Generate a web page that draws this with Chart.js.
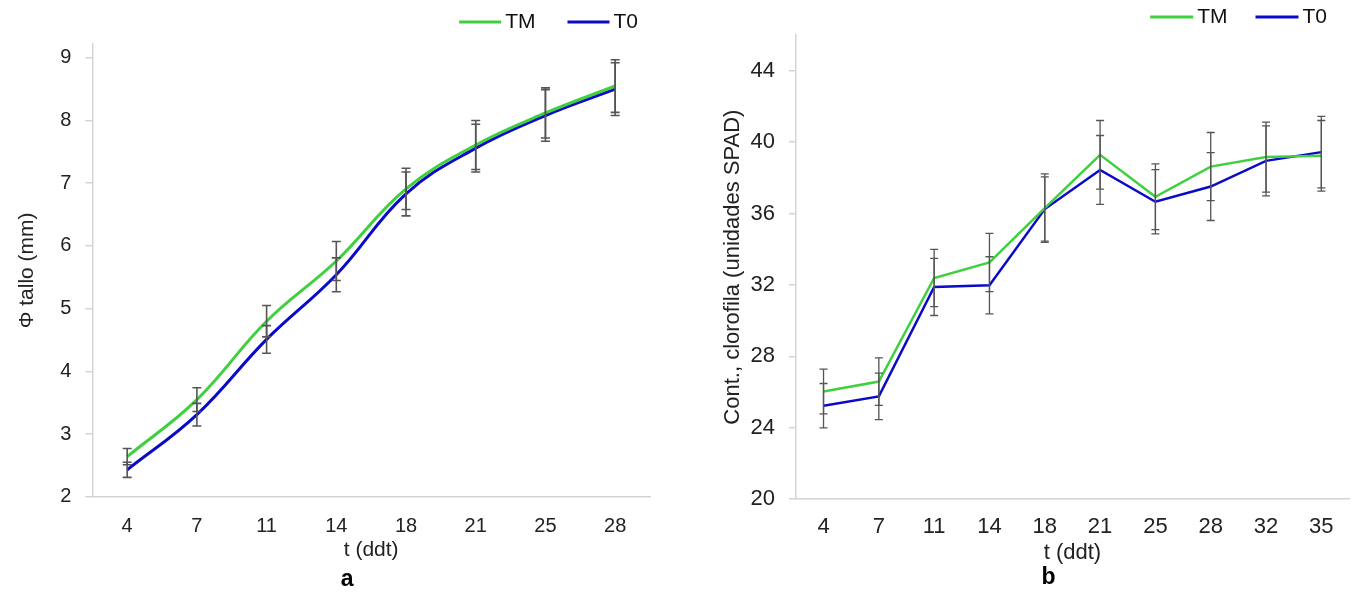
<!DOCTYPE html>
<html>
<head>
<meta charset="utf-8">
<script src="https://cdn.jsdelivr.net/npm/chart.js@4.4.0/dist/chart.umd.min.js"></script>
<style>
  body { margin: 0; background: #fff; }
  .panel { position: absolute; top: 0; height: 594px; }
  #boxA { left: 0; width: 676px; }
  #boxB { left: 676px; width: 677px; }
</style>
</head>
<body>
<div class="panel" id="boxA"><canvas id="chartA"></canvas></div>
<div class="panel" id="boxB"><canvas id="chartB"></canvas></div>
<script>
// --- Panel a: stem diameter ---
const daysA = ['4', '7', '11', '14', '18', '21', '25', '28'];
const tmA = [2.64, 3.55, 4.80, 5.76, 6.91, 7.61, 8.12, 8.55];
const t0A = [2.43, 3.31, 4.51, 5.54, 6.83, 7.56, 8.08, 8.50];
const tmErrA = [0.13, 0.19, 0.25, 0.31, 0.33, 0.39, 0.40, 0.42];
const t0ErrA = [0.12, 0.18, 0.22, 0.27, 0.35, 0.38, 0.41, 0.42];
const ticksA = [2, 3, 4, 5, 6, 7, 8, 9];

// --- Panel b: chlorophyll (SPAD) ---
const daysB = ['4', '7', '11', '14', '18', '21', '25', '28', '32', '35'];
const tmB = [26.03, 26.59, 32.39, 33.26, 36.30, 39.29, 36.94, 38.63, 39.16, 39.23];
const t0B = [25.24, 25.76, 31.89, 31.98, 36.25, 38.44, 36.66, 37.51, 38.95, 39.44];
const tmErrB = [1.25, 1.33, 1.60, 1.63, 1.92, 1.92, 1.84, 1.91, 1.96, 1.98];
const t0ErrB = [1.24, 1.30, 1.60, 1.60, 1.80, 1.93, 1.80, 1.90, 1.96, 2.00];
const ticksB = [20, 24, 28, 32, 36, 40, 44];

const GREEN = '#3fd03f';
const BLUE = '#0a0ac8';
const AXIS = '#d4d4d4';
const FONT = '"Liberation Sans", Arial, sans-serif';

// error bars drawn from each dataset's `errors` array
const errorBars = {
    id: 'errorBars',
    afterDatasetsDraw(chart, args, opts) {
        const { ctx } = chart;
        const y = chart.scales.y;
        ctx.save();
        ctx.strokeStyle = opts.color;
        ctx.lineWidth = opts.width;
        chart.data.datasets.forEach((ds, i) => {
            chart.getDatasetMeta(i).data.forEach((pt, j) => {
                const v = ds.data[j], e = ds.errors[j];
                const top = y.getPixelForValue(v + e);
                const bot = y.getPixelForValue(v - e);
                const x = pt.x, c = opts.cap;
                ctx.beginPath();
                ctx.moveTo(x, top); ctx.lineTo(x, bot);
                ctx.moveTo(x - c, top); ctx.lineTo(x + c, top);
                ctx.moveTo(x - c, bot); ctx.lineTo(x + c, bot);
                ctx.stroke();
            });
        });
        ctx.restore();
    }
};

// legend with line samples, right-aligned to the plot area
const lineLegend = {
    id: 'lineLegend',
    afterDraw(chart, args, opts) {
        const { ctx, chartArea } = chart;
        ctx.save();
        ctx.font = `${opts.size}px ${FONT}`;
        ctx.textBaseline = 'middle';
        let x = chartArea.right + opts.dx;
        chart.data.datasets.slice().reverse().forEach(ds => {
            x -= ctx.measureText(ds.label).width;
            ctx.fillStyle = '#111';
            ctx.fillText(ds.label, x, opts.y);
            x -= opts.textGap;
            ctx.strokeStyle = ds.borderColor;
            ctx.lineWidth = 3;
            ctx.beginPath();
            ctx.moveTo(x - opts.lineLen, opts.y);
            ctx.lineTo(x, opts.y);
            ctx.stroke();
            x -= opts.lineLen + opts.itemGap;
        });
        ctx.restore();
    }
};

// bold panel letter under the x axis title
const panelLabel = {
    id: 'panelLabel',
    afterDraw(chart, args, opts) {
        const { ctx, chartArea } = chart;
        ctx.save();
        ctx.font = `bold 23px ${FONT}`;
        ctx.fillStyle = '#000';
        ctx.textAlign = 'center';
        ctx.textBaseline = 'middle';
        ctx.fillText(opts.text, (chartArea.left + chartArea.right) / 2 + opts.dx, opts.y);
        ctx.restore();
    }
};

function makeChart(id, cfg) {
    return new Chart(document.getElementById(id), {
        type: 'line',
        data: {
            labels: cfg.labels,
            datasets: [
                { label: 'TM', data: cfg.tm, errors: cfg.tmErr, borderColor: GREEN, backgroundColor: GREEN,
                  borderWidth: cfg.lineWidth, pointRadius: 0, tension: cfg.tension },
                { label: 'T0', data: cfg.t0, errors: cfg.t0Err, borderColor: BLUE, backgroundColor: BLUE,
                  borderWidth: cfg.lineWidth, pointRadius: 0, tension: cfg.tension }
            ]
        },
        options: {
            responsive: true,
            maintainAspectRatio: false,
            animation: false,
            layout: { padding: cfg.padding },
            scales: {
                x: {
                    offset: true,
                    grid: { display: false, drawTicks: false, tickLength: 0 },
                    border: { display: true, color: AXIS, width: 1.5 },
                    ticks: { color: '#222', font: { family: FONT, size: cfg.xTickSize }, padding: cfg.xTickPad },
                    title: { display: true, text: 't (ddt)', color: '#222',
                             font: { family: FONT, size: cfg.xTitleSize }, padding: { top: cfg.xTitleTop, bottom: 0 } }
                },
                y: {
                    min: cfg.min, max: cfg.max,
                    // only the labelled values, not the axis maximum
                    afterBuildTicks: scale => {
                        scale.ticks = cfg.tickValues.map(v => ({ value: v }));
                    },
                    grid: { drawOnChartArea: false, drawTicks: true, tickLength: 7, color: AXIS, lineWidth: 1.5 },
                    border: { display: true, color: AXIS, width: 1.5 },
                    ticks: { color: '#222', font: { family: FONT, size: cfg.yTickSize }, padding: 14 },
                    title: { display: true, text: cfg.yTitle, color: '#222',
                             font: { family: FONT, size: cfg.yTitleSize }, padding: { top: 0, bottom: cfg.yTitleGap } }
                }
            },
            plugins: {
                legend: { display: false },
                tooltip: { enabled: false },
                errorBars: { color: '#555', width: cfg.errWidth, cap: cfg.cap },
                lineLegend: cfg.legend,
                panelLabel: { text: cfg.letter, dx: -24, y: cfg.letterY }
            }
        },
        plugins: [errorBars, lineLegend, panelLabel]
    });
}

makeChart('chartA', {
    labels: daysA, tm: tmA, t0: t0A, tmErr: tmErrA, t0Err: t0ErrA,
    min: 2, max: 9.22, tickValues: ticksA,
    yTitle: 'Φ tallo (mm)', yTitleSize: 21, yTitleGap: 6, yTickSize: 20,
    xTickSize: 20, xTickPad: 18, xTitleSize: 21, xTitleTop: -19,
    tension: 0.4, lineWidth: 3, errWidth: 1.6, cap: 4.5,
    legend: { size: 21, dx: -12, y: 22, textGap: 4, lineLen: 42, itemGap: 32 },
    letter: 'a', letterY: 580,
    padding: { left: 15, right: 26, top: 44, bottom: 31 }
});

makeChart('chartB', {
    labels: daysB, tm: tmB, t0: t0B, tmErr: tmErrB, t0Err: t0ErrB,
    min: 20, max: 46, tickValues: ticksB,
    yTitle: 'Cont., clorofila (unidades SPAD)', yTitleSize: 22, yTitleGap: -10, yTickSize: 22,
    xTickSize: 22, xTickPad: 15, xTitleSize: 22, xTitleTop: -16,
    tension: 0, lineWidth: 2.5, errWidth: 1.3, cap: 4,
    legend: { size: 21, dx: -22, y: 17, textGap: 4, lineLen: 43, itemGap: 28 },
    letter: 'b', letterY: 578,
    padding: { left: 44, right: 4, top: 35, bottom: 28 }
});
</script>
</body>
</html>
